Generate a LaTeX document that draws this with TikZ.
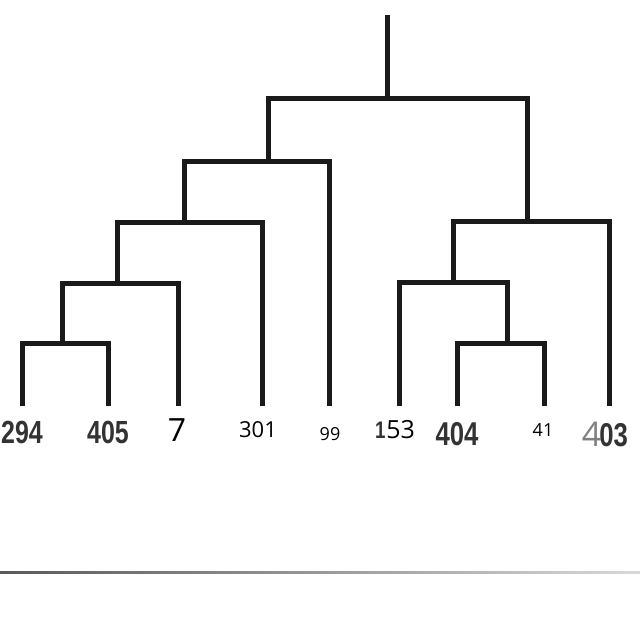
\documentclass[tikz,border=0pt]{standalone}
\usepackage{fontspec}
\usepackage{graphicx}
\setmainfont{Liberation Sans}
\newfontfamily\segoe{Open Sans}
\definecolor{inkc}{HTML}{1A1A1A}
\definecolor{printc}{HTML}{333333}
\newcommand{\condb}[2]{\scalebox{0.78}[1]{\fontsize{#1}{#1}\selectfont\bfseries #2}}
\newcommand{\plain}[2]{{\segoe\fontsize{#1}{#1}\selectfont #2}}
\begin{document}
\begin{tikzpicture}[x=1pt,y=-1pt,
  branch/.style={draw=inkc,line width=5pt,line join=miter},
  leaflabel/.style={inner sep=0pt,anchor=center}]
\useasboundingbox (0,0) rectangle (640,640);
\fill[white] (0,0) rectangle (640,640);
% leaf ends
\coordinate (l294) at (22,406);
\coordinate (l405) at (108,406);
\coordinate (l7)   at (178,406);
\coordinate (l301) at (262,406);
\coordinate (l99)  at (329,406);
\coordinate (l153) at (399,406);
\coordinate (l404) at (457,406);
\coordinate (l41)  at (544,406);
\coordinate (l403) at (609,406);
% merge points
\coordinate (m1) at (62,343);
\coordinate (m2) at (117,283);
\coordinate (m3) at (184,222);
\coordinate (m4) at (268,161);
\coordinate (m5) at (507,343);
\coordinate (m6) at (453,282);
\coordinate (m7) at (527,221);
\coordinate (root) at (387,98);
\coordinate (top) at (387,15);
% branches
\draw[branch] (l294) |- (m1) -| (l405);
\draw[branch] (m1) |- (m2) -| (l7);
\draw[branch] (m2) |- (m3) -| (l301);
\draw[branch] (m3) |- (m4) -| (l99);
\draw[branch] (l404) |- (m5) -| (l41);
\draw[branch] (l153) |- (m6) -| (m5);
\draw[branch] (m6) |- (m7) -| (l403);
\draw[branch] (m4) |- (root) -| (m7);
\draw[branch] (root) -- (top);
% labels
\node[leaflabel,text=printc] (t294) at (22,432) {\condb{32}{294}};
\node[leaflabel,text=printc] (t405) at (108,432) {\condb{32}{405}};
\node[leaflabel] (t7) at (177,430) {\plain{32}{7}};
\node[leaflabel] (t301) at (258,430) {\plain{22}{301}};
\node[leaflabel] (t99) at (330,434) {\plain{18}{99}};
\node[leaflabel] (t153) at (395,430) {\textcolor{printc}{\condb{24}{1}}\hspace{1pt}\plain{25}{53}};
\node[leaflabel,text=printc] (t404) at (457,434) {\condb{33}{404}};
\node[leaflabel] (t41) at (543,430) {\plain{18}{41}};
\node[leaflabel] (t403) at (605,434) {\textcolor{gray}{\segoe\fontsize{34}{34}\fontseries{l}\selectfont 4}\hspace{-2pt}\textcolor{printc}{\condb{33}{03}}};
% bottom rule
\shade[left color=black!65,right color=black!15] (0,571) rectangle (640,573.5);
\end{tikzpicture}
\end{document}
